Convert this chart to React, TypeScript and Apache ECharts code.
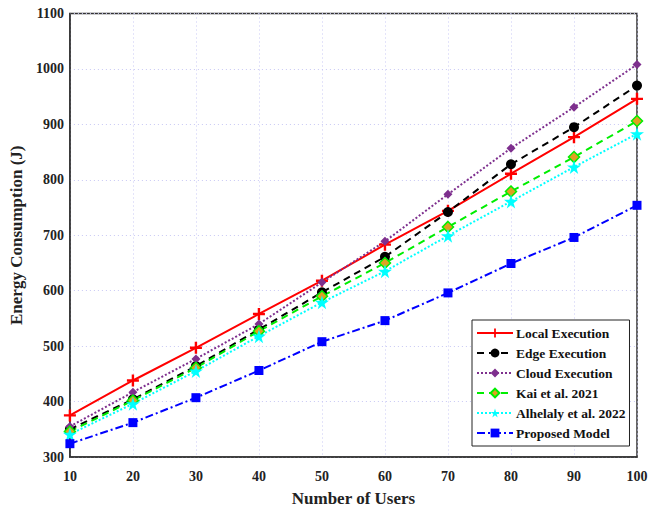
import React, { useEffect, useRef } from "react";
import * as echarts from "echarts";

const users = [10, 20, 30, 40, 50, 60, 70, 80, 90, 100];
const localExec = [375, 438, 497, 558, 618, 683, 744, 811, 877, 946];
const edgeExec = [350, 404, 464, 530, 597, 661, 742, 828, 895, 970];
const cloudExec = [355, 417, 477, 540, 615, 689, 774, 857, 931, 1008];
const kai2021 = [346, 402, 461, 527, 590, 650, 715, 779, 841, 906];
const alhelaly2022 = [341, 396, 455, 518, 579, 635, 699, 761, 823, 883];
const proposed = [324, 362, 407, 456, 508, 546, 596, 649, 696, 754];
const seriesNames = [
  "Local Execution",
  "Edge Execution",
  "Cloud Execution",
  "Kai et al. 2021",
  "Alhelaly et al. 2022",
  "Proposed Model",
];

const FONT = "'Liberation Serif', 'Times New Roman', serif";
const PLUS = "path://M4,0H6V4H10V6H6V10H4V6H0V4H4Z";
const STAR = "path://M50,0L61,35L98,35L68,57L79,91L50,70L21,91L32,57L2,35L39,35Z";

export default function App() {
  const ref = useRef<HTMLDivElement>(null);
  useEffect(() => {
    if (!ref.current) return;
    const chart = echarts.init(ref.current, undefined, { renderer: "svg" });
    const mk = (
      name: string,
      data: number[],
      color: string,
      type: any,
      symbol: string,
      symbolSize: number,
      itemStyle?: any
    ) => ({
      name,
      type: "line",
      data: users.map((u, i) => [u, data[i]]),
      symbol,
      symbolSize,
      showSymbol: true,
      lineStyle: { color, width: 2, type },
      itemStyle: itemStyle || { color },
      color,
      z: 3,
    });
    chart.setOption({
      animation: false,
      backgroundColor: "#fff",
      grid: {
        left: 69,
        top: 13.5,
        right: 24,
        bottom: 54.5,
        show: true,
        borderColor: "#333",
        borderWidth: 1.5,
        backgroundColor: "transparent",
      },
      xAxis: {
        type: "value",
        min: 10,
        max: 100,
        interval: 10,
        name: "Number of Users",
        nameLocation: "middle",
        nameGap: 33,
        nameTextStyle: { fontFamily: FONT, fontWeight: "bold", fontSize: 17, color: "#222" },
        axisLine: { show: true, lineStyle: { color: "#333", width: 1.5 } },
        axisTick: { show: false },
        axisLabel: { fontFamily: FONT, fontWeight: "bold", fontSize: 14, color: "#222", margin: 12 },
        splitLine: { show: true, lineStyle: { color: "#c8c8f4", type: [1, 3], width: 1 } },
      },
      yAxis: {
        type: "value",
        min: 300,
        max: 1100,
        interval: 100,
        name: "Energy Consumption (J)",
        nameLocation: "middle",
        nameGap: 38,
        nameTextStyle: { fontFamily: FONT, fontWeight: "bold", fontSize: 17, color: "#222" },
        axisLine: { show: true, lineStyle: { color: "#333", width: 1.5 } },
        axisTick: { show: false },
        axisLabel: {
          fontFamily: FONT,
          fontWeight: "bold",
          fontSize: 14,
          color: "#222",
          margin: 6,
          formatter: (v: number) => String(v),
        },
        splitLine: { show: true, lineStyle: { color: "#c8c8f4", type: [1, 3], width: 1 } },
      },
      legend: {
        orient: "vertical",
        left: 472,
        top: 320,
        backgroundColor: "#fff",
        borderColor: "#222",
        borderWidth: 1,
        borderRadius: 0,
        padding: [6, 4, 6, 4],
        itemWidth: 36,
        itemHeight: 11,
        itemGap: 6,
        textStyle: {
          fontFamily: FONT,
          fontWeight: "bold",
          fontSize: 13.5,
          lineHeight: 14,
          color: "#111",
          padding: [0, 0, 0, -2],
        },
        data: seriesNames,
      },
      series: [
        mk(seriesNames[0], localExec, "#ff0000", "solid", PLUS, 12),
        mk(seriesNames[1], edgeExec, "#000000", [7, 5], "circle", 10),
        mk(seriesNames[2], cloudExec, "#7e2f8e", [2, 2], "diamond", 9),
        mk(seriesNames[3], kai2021, "#00ee00", [7, 5], "diamond", 11, {
          color: "#e0a020",
          borderColor: "#00ee00",
          borderWidth: 1.5,
        }),
        mk(seriesNames[4], alhelaly2022, "#00ffff", [2, 2], STAR, 14),
        mk(seriesNames[5], proposed, "#0000ff", [8, 3, 2, 3], "rect", 9),
      ],
    });
    return () => chart.dispose();
  }, []);
  return (
    <div
      ref={ref}
      style={{ position: "fixed", left: 0, top: 0, width: 661, height: 512 }}
    />
  );
}
